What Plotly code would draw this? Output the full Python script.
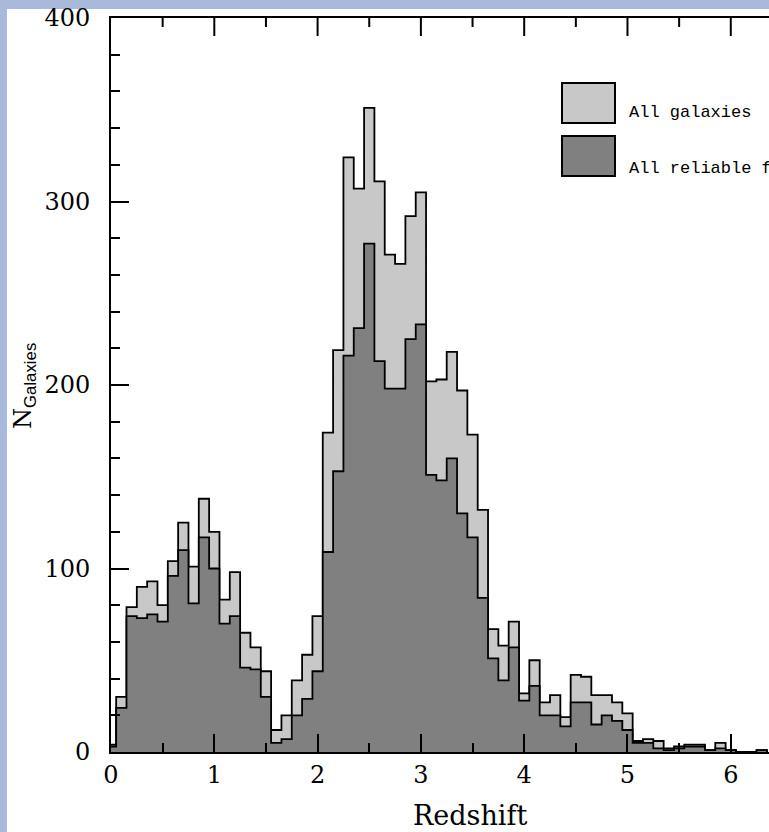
import plotly.graph_objects as go

# ---------------- data ----------------
bin_centers = [0.0, 0.1, 0.2, 0.3, 0.4, 0.5, 0.6, 0.7, 0.8, 0.9,
               1.0, 1.1, 1.2, 1.3, 1.4, 1.5, 1.6, 1.7, 1.8, 1.9,
               2.0, 2.1, 2.2, 2.3, 2.4, 2.5, 2.6, 2.7, 2.8, 2.9,
               3.0, 3.1, 3.2, 3.3, 3.4, 3.5, 3.6, 3.7, 3.8, 3.9,
               4.0, 4.1, 4.2, 4.3, 4.4, 4.5, 4.6, 4.7, 4.8, 4.9,
               5.0, 5.1, 5.2, 5.3, 5.4, 5.5, 5.6, 5.7, 5.8, 5.9,
               6.0, 6.1, 6.2, 6.3]
bin_width = 0.1

all_galaxies = [4, 30, 79, 90, 93, 80, 104, 125, 101, 138,
                120, 83, 98, 65, 57, 44, 12, 20, 39, 53,
                74, 174, 219, 324, 307, 351, 311, 271, 266, 292,
                305, 202, 203, 218, 197, 173, 132, 67, 58, 71,
                32, 50, 27, 31, 19, 42, 41, 31, 31, 27,
                21, 6, 7, 6, 2, 3, 4, 4, 1, 5,
                1, 0, 0, 1]

all_reliable = [3, 24, 74, 73, 75, 71, 96, 110, 81, 117,
                100, 70, 74, 46, 45, 30, 5, 7, 20, 29,
                44, 109, 153, 216, 231, 277, 213, 198, 198, 225,
                233, 151, 148, 160, 130, 117, 84, 51, 39, 57,
                28, 36, 20, 20, 14, 27, 27, 15, 20, 17,
                12, 5, 5, 2, 1, 2, 3, 3, 1, 2,
                1, 0, 0, 1]

x_ticks = [0, 1, 2, 3, 4, 5, 6]
y_ticks = [0, 100, 200, 300, 400]
series_names = ["All galaxies", "All reliable f"]

# ---------------- geometry helpers (layout only) ----------------
W, H = 769, 832
L, R, T, B = 111, 0, 18, 80
PW, PH = W - L - R, H - T - B
X_RANGE = [0, 6.37]
MAJOR_LEN, MINOR_LEN = 18, 9


def px(xpix):
    return (xpix - L) / PW


def py(ypix):
    return (H - B - ypix) / PH


def steps(values):
    xs = [c - bin_width / 2 for c in bin_centers] + [bin_centers[-1] + bin_width / 2]
    ys = list(values) + [0]
    return xs, ys


light = "#c8c8c8"
dark = "#808080"

fig = go.Figure()
for vals, col, name in [(all_galaxies, light, series_names[0]),
                        (all_reliable, dark, series_names[1])]:
    xs, ys = steps(vals)
    fig.add_trace(go.Scatter(
        x=xs, y=ys, mode="lines", line=dict(shape="hv", color="black", width=1.8),
        fill="tozeroy", fillcolor=col, name=name, showlegend=False,
        hoverinfo="skip"))

tick_font = dict(family="DejaVu Serif", size=24, color="black")

fig.update_layout(
    xaxis=dict(range=X_RANGE, tickmode="array", tickvals=x_ticks,
               ticktext=[str(v) for v in x_ticks],
               showline=True, linecolor="black", linewidth=2, mirror=True,
               ticks="inside", ticklen=MAJOR_LEN, tickwidth=2, tickcolor="black",
               showgrid=False, zeroline=False, tickfont=tick_font,
               minor=dict(dtick=0.5, tick0=0, ticks="inside", ticklen=MINOR_LEN,
                          tickwidth=2, tickcolor="black", showgrid=False)),
    yaxis=dict(range=[0, 400], tickmode="array", tickvals=y_ticks,
               ticktext=[str(v) for v in y_ticks],
               showline=True, linecolor="black", linewidth=2, mirror=False,
               ticks="inside", ticklen=MAJOR_LEN, tickwidth=2, tickcolor="black",
               ticklabelstandoff=14,
               showgrid=False, zeroline=False, tickfont=tick_font,
               minor=dict(dtick=20, tick0=0, ticks="inside", ticklen=MINOR_LEN,
                          tickwidth=2, tickcolor="black", showgrid=False)),
)

shapes = [
    # white slide area over the blue background
    dict(type="rect", xref="paper", yref="paper", layer="below",
         x0=px(7), x1=px(W + 5), y0=py(H + 5), y1=py(9),
         fillcolor="white", line=dict(width=0)),
    # legend swatches
    dict(type="rect", xref="paper", yref="paper",
         x0=px(562), x1=px(615), y0=py(123), y1=py(83),
         fillcolor=light, line=dict(color="black", width=2)),
    dict(type="rect", xref="paper", yref="paper",
         x0=px(562), x1=px(615), y0=py(176), y1=py(136),
         fillcolor=dark, line=dict(color="black", width=2)),
]

# ticks on the top frame line (inward), at the same positions as the bottom axis
top_major = [t for t in x_ticks if X_RANGE[0] < t < X_RANGE[1]]
top_minor = [t + 0.5 for t in x_ticks if t + 0.5 < X_RANGE[1]]
for t in top_major:
    shapes.append(dict(type="line", xref="x", yref="paper", x0=t, x1=t,
                       y0=1, y1=1 - MAJOR_LEN / PH,
                       line=dict(color="black", width=2), layer="above"))
for t in top_minor:
    shapes.append(dict(type="line", xref="x", yref="paper", x0=t, x1=t,
                       y0=1, y1=1 - MINOR_LEN / PH,
                       line=dict(color="black", width=2), layer="above"))

legend_font = dict(family="Liberation Mono", size=17, color="black")
annotations = [
    dict(text=series_names[0], xref="paper", yref="paper", x=px(627), y=py(113),
         xanchor="left", yanchor="middle", showarrow=False, font=legend_font),
    dict(text=series_names[1], xref="paper", yref="paper", x=px(627), y=py(168),
         xanchor="left", yanchor="middle", showarrow=False, font=legend_font),
    dict(text="Redshift", xref="paper", yref="paper", x=px(470), y=py(815),
         xanchor="center", yanchor="middle", showarrow=False,
         font=dict(family="DejaVu Serif", size=27, color="black")),
    dict(text='N<sub><span style="font-family:Liberation Sans">Galaxies</span></sub>',
         xref="paper", yref="paper", x=px(24), y=py(386), textangle=-90,
         xanchor="center", yanchor="middle", showarrow=False,
         font=dict(family="DejaVu Serif", size=24, color="black")),
]

fig.update_layout(
    width=W, height=H,
    margin=dict(l=L, r=R, t=T, b=B, pad=0),
    paper_bgcolor="#a9b9dc", plot_bgcolor="white",
    shapes=shapes, annotations=annotations, showlegend=False,
)

fig.write_html(
    "out.html",
    config={"displayModeBar": False, "staticPlot": True},
    post_script="document.body.style.margin='0';document.body.style.overflow='hidden';",
)
